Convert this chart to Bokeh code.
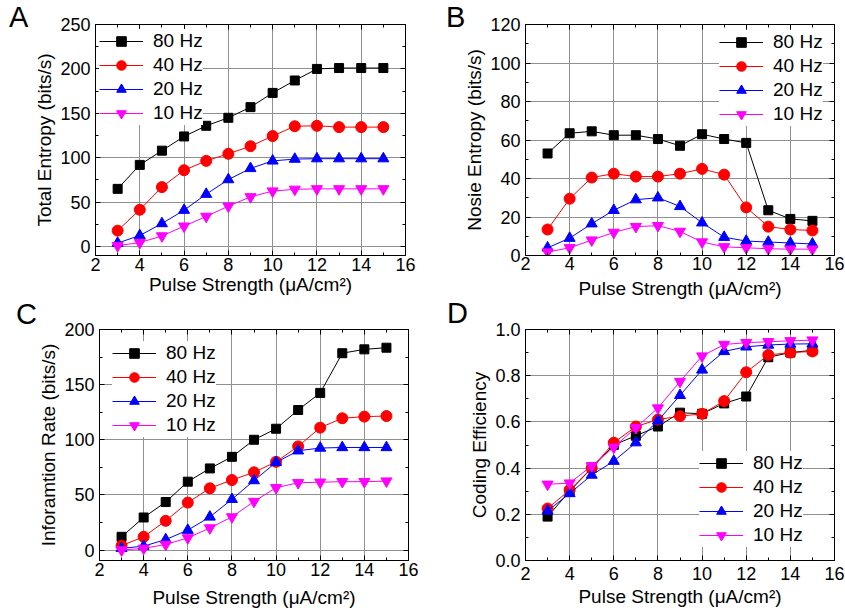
from bokeh.plotting import figure
from bokeh.layouts import column, row
from bokeh.models import (LinearAxis, SingleIntervalTicker, Range1d, Legend,
                          LegendItem, Div, CustomLabelingPolicy,
                          PrintfTickFormatter)
from bokeh.embed import file_html
from bokeh.resources import INLINE

# ---------------- data ----------------
pulse_strength = [3, 4, 5, 6, 7, 8, 9, 10, 11, 12, 13, 14, 15]
series_labels = ["80 Hz", "40 Hz", "20 Hz", "10 Hz"]

total_80 = [65, 92, 108, 124, 136, 145, 157, 173, 187, 200, 201, 201, 201]
total_40 = [18, 41.5, 67, 86, 96.5, 104.5, 113, 124.5, 135.5, 136, 134.5, 134.5, 134.5]
total_20 = [4, 12.5, 26, 41, 59, 75.5, 88, 96.5, 98.5, 99, 99, 99, 99]
total_10 = [1, 4.5, 12, 23, 34, 45.5, 56, 62.5, 64.5, 65, 65, 65, 65]

noise_80 = [53, 63.5, 64.5, 62.5, 62.5, 60.5, 57, 63, 60.5, 58.5, 23.5, 19, 18]
noise_40 = [13.5, 29.5, 40.5, 42.5, 41, 41, 42.5, 45, 42, 25, 15, 13.5, 13]
noise_20 = [4, 9, 16.5, 23.5, 29, 30, 25.5, 17, 9.5, 7.5, 7, 6.5, 6]
noise_10 = [1.8, 4, 8, 12, 15, 15.5, 12.5, 7, 4.5, 4, 3.5, 3.3, 3.3]

info_80 = [12, 29.5, 43.5, 62, 74, 84.5, 100, 110, 127, 142.5, 178.5, 182, 183.5]
info_40 = [4, 12, 26.5, 43, 56, 63.5, 70.5, 80, 94, 111, 119.5, 121, 121.5]
info_20 = [1.5, 3.5, 9.5, 18, 30, 46, 63, 79.5, 90, 92.5, 93, 93, 93]
info_10 = [0, 1.5, 5, 11, 20, 30, 44, 56.5, 61, 61.5, 62, 62, 62.5]

eff_80 = [0.19, 0.30, 0.40, 0.50, 0.54, 0.58, 0.64, 0.635, 0.68, 0.71, 0.88, 0.90, 0.91]
eff_40 = [0.225, 0.305, 0.40, 0.51, 0.58, 0.61, 0.625, 0.635, 0.69, 0.815, 0.89, 0.90, 0.905]
eff_20 = [0.215, 0.29, 0.37, 0.43, 0.51, 0.605, 0.715, 0.825, 0.905, 0.925, 0.933, 0.937, 0.938]
eff_10 = [0.33, 0.335, 0.41, 0.49, 0.575, 0.66, 0.775, 0.885, 0.935, 0.943, 0.947, 0.951, 0.954]

x_label = "Pulse Strength (\u03bcA/cm\u00b2)"

# ---------------- styling ----------------
FONT = "Liberation Sans"
colors = ["#000000", "#ff0000", "#0000ff", "#ff00ff"]
markers = ["square", "circle", "triangle", "inverted_triangle"]
msizes = [9, 11, 11, 11]


def style_axis(ax, show_labels=True):
    ax.axis_line_color = "black"
    ax.axis_line_width = 1
    ax.major_tick_in = 5
    ax.major_tick_out = 0
    ax.minor_tick_in = 3
    ax.minor_tick_out = 0
    ax.major_tick_line_color = "black"
    ax.minor_tick_line_color = "black"
    ax.major_label_text_font = FONT
    ax.axis_label_text_font = FONT
    ax.axis_label_text_font_style = "normal"
    ax.axis_label_text_color = "black"
    ax.major_label_text_color = "black"
    ax.major_label_text_font_size = "18px"
    ax.axis_label_text_font_size = "19px"
    if not show_labels:
        ax.major_label_policy = CustomLabelingPolicy(code="return []")
        ax.major_label_text_font_size = "0px"
        ax.major_label_standoff = 0


def make_letter(letter, left, top, width, height):
    html = ('<div style="position:relative;left:%dpx;top:%dpx;margin:0;'
            'padding:0;font-family:\'Liberation Sans\';font-size:29px;'
            'line-height:33px;color:#000;white-space:nowrap">%s</div>'
            % (left, top, letter))
    return Div(text=html, width=width, height=height, margin=0,
               styles={"overflow": "visible", "z-index": "5"})


def make_panel(ys, ylabel, y_start, y_end, y_int, w, h, bl, br, bt, bb,
               leg_loc, xtick_sd, xlab_sd, fmt=None):
    p = figure(width=w, height=h, output_backend="svg", toolbar_location=None,
               x_range=Range1d(2, 16), y_range=Range1d(y_start, y_end),
               min_border_left=bl, min_border_right=br,
               min_border_top=bt, min_border_bottom=bb)
    p.background_fill_color = "white"
    p.border_fill_color = "white"
    p.border_fill_alpha = 0
    p.outline_line_color = "black"
    p.outline_line_width = 1

    p.xaxis.ticker = SingleIntervalTicker(interval=2, num_minor_ticks=2)
    p.yaxis.ticker = SingleIntervalTicker(interval=y_int, num_minor_ticks=2)
    if fmt is not None:
        p.yaxis.formatter = PrintfTickFormatter(format=fmt)
    p.xaxis.axis_label = x_label
    p.yaxis.axis_label = ylabel
    for ax in p.xaxis + p.yaxis:
        style_axis(ax)
    p.xaxis.major_label_standoff = xtick_sd
    p.xaxis.axis_label_standoff = xlab_sd
    p.yaxis.major_label_standoff = 5
    p.yaxis.axis_label_standoff = 2

    top = LinearAxis(ticker=SingleIntervalTicker(interval=2, num_minor_ticks=2))
    right = LinearAxis(ticker=SingleIntervalTicker(interval=y_int, num_minor_ticks=2))
    style_axis(top, False)
    style_axis(right, False)
    p.add_layout(top, "above")
    p.add_layout(right, "right")

    p.xgrid.grid_line_color = "#909090"
    p.ygrid.grid_line_color = "#909090"
    p.xgrid.grid_line_width = 1
    p.ygrid.grid_line_width = 1

    items = []
    for yv, c, m, s, lab in zip(ys, colors, markers, msizes, series_labels):
        ln = p.line(pulse_strength, yv, line_color=c, line_width=1)
        sc = p.scatter(pulse_strength, yv, marker=m, size=s, fill_color=c,
                       line_color=c)
        items.append(LegendItem(label=lab, renderers=[ln, sc]))

    leg = Legend(items=items, location=leg_loc, margin=0, padding=6,
                 spacing=0, glyph_width=44, glyph_height=24, label_height=24,
                 label_standoff=10, label_text_font=FONT,
                 label_text_color="black",
                 label_text_font_size="19px", background_fill_color="white",
                 background_fill_alpha=1.0, border_line_color=None)
    p.add_layout(leg, "center")
    return p


DIV_W = 25
ROW1_H = 306
ROW2_H = 309
pA = make_panel([total_80, total_40, total_20, total_10],
                "Total Entropy (bits/s)", -10, 250, 50,
                420 - DIV_W, ROW1_H, 95 - DIV_W, 15, 23, ROW1_H - 23 - 232,
                (4, 130), 2, 0)
pB = make_panel([noise_80, noise_40, noise_20, noise_10],
                "Nosie Entropy (bits/s)", 0, 120, 20,
                425 - DIV_W, ROW1_H, 105 - DIV_W, 11, 24, ROW1_H - 24 - 232,
                (194, 129), 1, 5)
pC = make_panel([info_80, info_40, info_20, info_10],
                "Inforamtion Rate (bits/s)", -9.5, 200, 50,
                420 - DIV_W, ROW2_H, 99 - DIV_W, 12, 329 - ROW1_H,
                ROW2_H - (329 - ROW1_H) - 231, (13, 123), 2, 8)
pD = make_panel([eff_80, eff_40, eff_20, eff_10],
                "Coding Efficiency", 0, 1.0, 0.2,
                425 - DIV_W, ROW2_H, 105 - DIV_W, 11, 329 - ROW1_H,
                ROW2_H - (329 - ROW1_H) - 232, (174, 13), 6, 3, fmt="%.1f")

dA = make_letter("A", 9, 1, DIV_W, ROW1_H)
dB = make_letter("B", 26, 1, DIV_W, ROW1_H)
dC = make_letter("C", 16, -8, DIV_W, ROW2_H)
dD = make_letter("D", 27, -9, DIV_W, ROW2_H)

layout = column(row(dA, pA, dB, pB), row(dC, pC, dD, pD))

open("out.html", "w").write(file_html(layout, INLINE))
